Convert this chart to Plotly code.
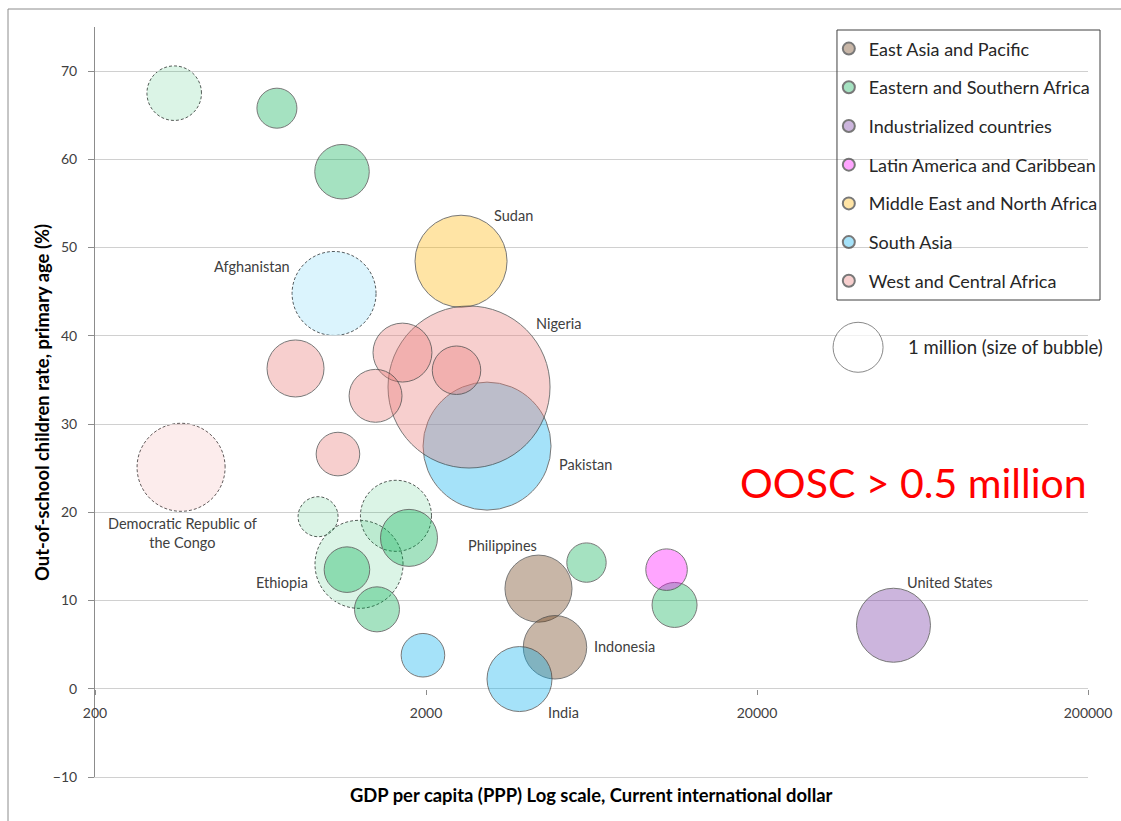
import math
import plotly.graph_objects as go

# ---------------------------------------------------------------- data
REGIONS = [
    "East Asia and Pacific",
    "Eastern and Southern Africa",
    "Industrialized countries",
    "Latin America and Caribbean",
    "Middle East and North Africa",
    "South Asia",
    "West and Central Africa",
]

# countries with more than 0.5 million out-of-school children (OOSC)
country = [
    "Philippines", "Indonesia",
    "", "", "", "", "Ethiopia", "", "", "", "", "", "",
    "United States",
    "",
    "Sudan",
    "Afghanistan", "Pakistan", "", "India",
    "Nigeria", "", "", "", "", "", "Democratic Republic of<br>the Congo",
]
region = [0, 0,
          1, 1, 1, 1, 1, 1, 1, 1, 1, 1, 1,
          2,
          3,
          4,
          5, 5, 5, 5,
          6, 6, 6, 6, 6, 6, 6]
# GDP per capita (PPP), current international dollar
gdp_ppp = [4374, 4906,
           347, 709, 1115, 944, 1255, 1623, 1777, 1154, 1422, 6108, 11270,
           51680,
           10661,
           2552,
           1055, 3058, 1958, 3833,
           2698, 2473, 1698, 807, 1408, 1084, 364]
# out-of-school rate, primary age (%)
oosc_rate = [11.35, 4.7,
             67.5, 65.8, 58.6, 19.5, 14.1, 19.6, 17.1, 13.5, 9.0, 14.3, 9.5,
             7.2,
             13.5,
             48.45,
             44.8, 27.5, 3.8, 1.1,
             34.2, 36.1, 38.1, 36.3, 33.2, 26.6, 25.1]
# number of out-of-school children (millions)
oosc_millions = [1.80, 1.61,
                 1.19, 0.64, 1.19, 0.64, 3.10, 2.02, 1.30, 0.83, 0.81, 0.62, 0.81,
                 2.19,
                 0.69,
                 3.39,
                 2.82, 6.55, 0.76, 1.69,
                 10.5, 0.94, 1.39, 1.30, 1.12, 0.76, 3.10]
# figures based on estimates
estimated = [False, False,
             True, False, False, True, True, True, False, False, False, False, False,
             False,
             False,
             False,
             True, False, False, False,
             False, False, False, False, False, False, True]

X_TICKS = [200, 2000, 20000, 200000]
Y_TICKS = [-10, 0, 10, 20, 30, 40, 50, 60, 70]
SIZE_KEY_MILLIONS = 1.0

# ---------------------------------------------------------------- styling
FONT = "Lato"
TEXT = "#404040"
REGION_RGB = [(100, 50, 5), (0, 176, 80), (112, 48, 160), (255, 0, 255),
              (255, 180, 0), (0, 176, 240), (233, 122, 117)]
SOLID_ALPHA = 0.5
EST_ALPHA = 0.2
KEY_DIAMETER = 50                      # px for 1 million children
SIZEREF = 2.0 * SIZE_KEY_MILLIONS / KEY_DIAMETER ** 2
KEY_POS = (40400, 38.7)                # where the size key bubble sits
X_RANGE = [math.log10(200), math.log10(200000)]

LABEL_SHIFT = {                        # (dx, dy) px from bubble centre
    "Sudan": (52, 46),
    "Afghanistan": (-82, 27),
    "Nigeria": (90, 64),
    "Pakistan": (98, -18),
    "Democratic Republic of<br>the Congo": (1, -66),
    "Ethiopia": (-77, -18),
    "Philippines": (-36, 43),
    "Indonesia": (70, 1),
    "India": (44, -33),
    "United States": (57, 43),
}


def rgba(rgb, a):
    return "rgba(%d,%d,%d,%.2f)" % (rgb[0], rgb[1], rgb[2], a)


def circle_path(r):
    """Closed Bezier circle of radius r (pixels) around the shape anchor."""
    k = 0.5523 * r
    return ("M {r},0 C {r},{k} {k},{r} 0,{r} C {nk},{r} {nr},{k} {nr},0 "
            "C {nr},{nk} {nk},{nr} 0,{nr} C {k},{nr} {r},{nk} {r},0 Z"
            ).format(r=r, k=k, nr=-r, nk=-k)


fig = go.Figure()

# estimated bubbles first (light fill, dashed outline drawn as shapes)
for r, name in enumerate(REGIONS):
    idx = [i for i in range(len(country)) if region[i] == r and estimated[i]]
    if not idx:
        continue
    fig.add_trace(go.Scatter(
        x=[gdp_ppp[i] for i in idx], y=[oosc_rate[i] for i in idx],
        mode="markers", name=name, legendgroup=name, showlegend=False,
        text=[country[i] for i in idx],
        marker=dict(size=[oosc_millions[i] for i in idx], sizemode="area",
                    sizeref=SIZEREF, color=rgba(REGION_RGB[r], EST_ALPHA),
                    line=dict(width=0)),
    ))

# regular bubbles, one trace per region
for r, name in enumerate(REGIONS):
    idx = [i for i in range(len(country)) if region[i] == r and not estimated[i]]
    fig.add_trace(go.Scatter(
        x=[gdp_ppp[i] for i in idx], y=[oosc_rate[i] for i in idx],
        mode="markers", name=name, legendgroup=name,
        text=[country[i] for i in idx],
        marker=dict(size=[oosc_millions[i] for i in idx], sizemode="area",
                    sizeref=SIZEREF, color=rgba(REGION_RGB[r], SOLID_ALPHA),
                    line=dict(width=1, color="#404040")),
    ))

# bubble size key (on a twin x axis that also draws the bottom frame line)
fig.add_trace(go.Scatter(
    x=[KEY_POS[0]], y=[KEY_POS[1]], xaxis="x2", yaxis="y",
    mode="markers", showlegend=False, hoverinfo="skip",
    marker=dict(size=[SIZE_KEY_MILLIONS], sizemode="area", sizeref=SIZEREF,
                color="white", line=dict(width=1, color="#595959")),
))

shapes = []
for i in range(len(country)):
    if estimated[i]:
        d = math.sqrt(2 * oosc_millions[i] / SIZEREF)
        shapes.append(dict(
            type="path", xref="x", yref="y", xsizemode="pixel", ysizemode="pixel",
            xanchor=gdp_ppp[i], yanchor=oosc_rate[i], path=circle_path(d / 2),
            line=dict(color="#595959", width=1, dash="3px,2px"), layer="below",
        ))

# legend frame and outer chart border
shapes.append(dict(type="rect", xref="paper", yref="paper",
                   x0=0.7472, x1=1.0121, y0=0.636, y1=0.996,
                   line=dict(color="#404040", width=1)))
shapes.append(dict(type="rect", xref="paper", yref="paper",
                   x0=-0.0876, x1=1.2, y0=-0.3, y1=1.024,
                   line=dict(color="#8c8c8c", width=1)))

annotations = []
for i in range(len(country)):
    if country[i] in LABEL_SHIFT:
        dx, dy = LABEL_SHIFT[country[i]]
        annotations.append(dict(
            x=math.log10(gdp_ppp[i]), y=oosc_rate[i], xref="x", yref="y",
            text=country[i], showarrow=False, xshift=dx, yshift=dy,
            font=dict(family=FONT, size=14.5, color=TEXT), align="center",
        ))

annotations += [
    dict(x=math.log10(KEY_POS[0]), y=KEY_POS[1], xref="x2", yref="y",
         text="1 million (size of bubble)",
         showarrow=False, xanchor="left", xshift=48,
         font=dict(family=FONT, size=18.5, color="#262626")),
    dict(x=0.8238, y=0.3933, xref="paper", yref="paper", text="OOSC &gt; 0.5 million",
         showarrow=False, xanchor="center", yanchor="middle",
         font=dict(family=FONT, size=41, color="#ff0000")),
    dict(x=0.5, y=-0.024, xref="paper", yref="paper",
         text="<b>GDP per capita (PPP) Log scale, Current international dollar</b>",
         showarrow=False, xanchor="center", yanchor="middle",
         font=dict(family=FONT, size=18.4, color="#000000")),
    dict(x=-0.0534, y=0.5, xref="paper", yref="paper", textangle=-90,
         text="<b>Out-of-school children rate, primary age (%)</b>",
         showarrow=False, xanchor="center", yanchor="middle",
         font=dict(family=FONT, size=18.4, color="#000000")),
]

fig.update_layout(
    width=1121, height=821,
    margin=dict(l=95, r=33, t=27, b=44, autoexpand=False),
    paper_bgcolor="white", plot_bgcolor="white",
    font=dict(family=FONT, color=TEXT),
    shapes=shapes, annotations=annotations,
    showlegend=True,
    legend=dict(x=0.739, y=0.9955, xanchor="left", yanchor="top",
                bgcolor="rgba(0,0,0,0)", borderwidth=0,
                font=dict(family=FONT, size=18, color="#262626"),
                itemsizing="constant", tracegroupgap=12.3,
                traceorder="grouped", itemclick=False, itemdoubleclick=False),
    xaxis=dict(type="log", range=X_RANGE,
               tickvals=X_TICKS, ticktext=[str(v) for v in X_TICKS],
               anchor="free", position=10 / 85,
               showgrid=False, showline=False, zeroline=False,
               ticks="outside", ticklen=5, tickcolor="#8c8c8c",
               ticklabelstandoff=6,
               tickfont=dict(family=FONT, size=14, color=TEXT)),
    xaxis2=dict(type="log", range=X_RANGE, overlaying="x", anchor="y", side="bottom",
                showgrid=False, showline=True, linecolor="#d0d0d0", linewidth=1,
                showticklabels=False, ticks="", zeroline=False),
    yaxis=dict(range=[-10, 75], tickvals=Y_TICKS,
               showgrid=True, gridcolor="#d0d0d0", gridwidth=1,
               showline=True, linecolor="#8c8c8c", zeroline=False,
               ticks="outside", ticklen=6, tickcolor="#8c8c8c",
               ticklabelstandoff=8,
               tickfont=dict(family=FONT, size=14, color=TEXT)),
)

fig.write_html("out.html")
